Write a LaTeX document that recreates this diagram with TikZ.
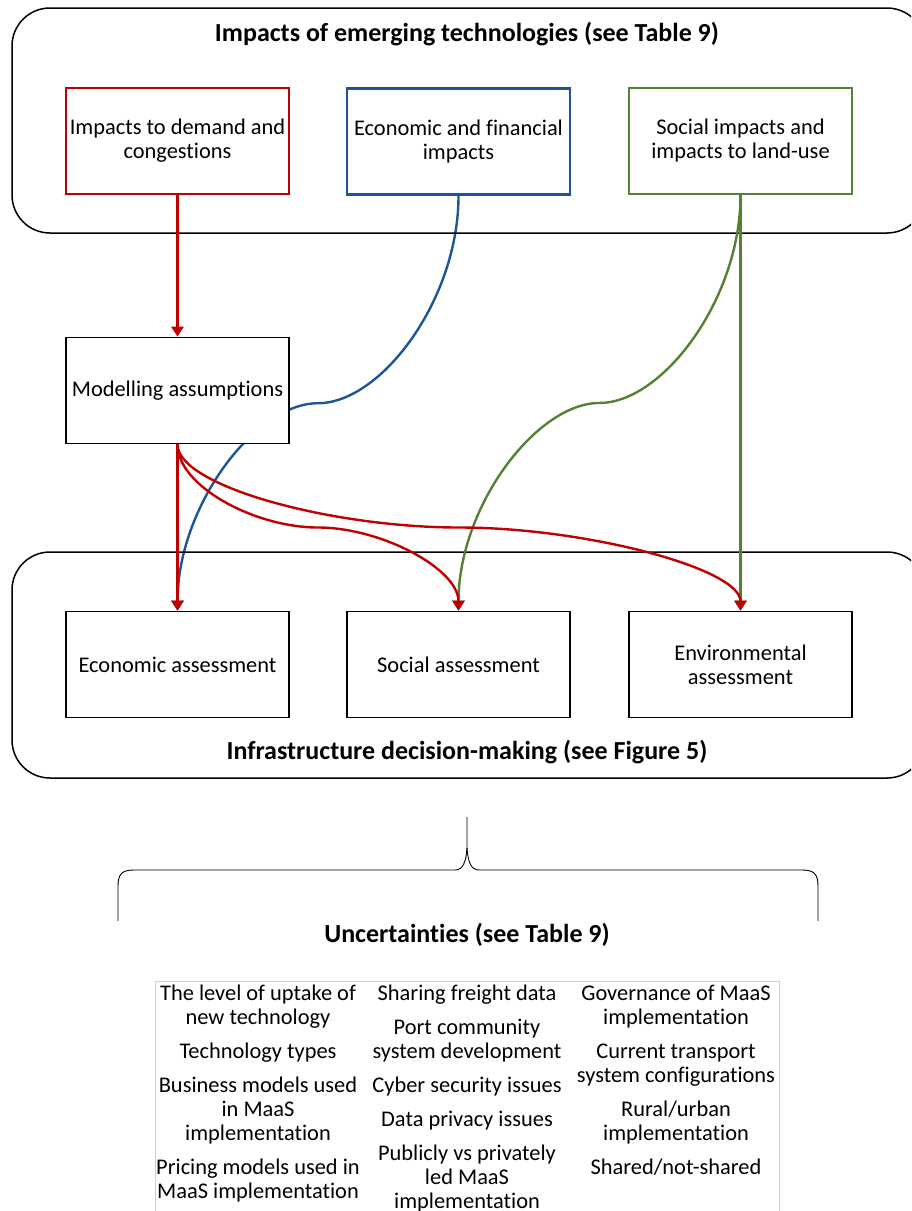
\documentclass[tikz,border=0pt]{standalone}
\usepackage{fontspec}
\setmainfont{Carlito}[Ligatures=NoCommon]
\usetikzlibrary{arrows.meta,calc}
\pgfdeclarelayer{bg}
\pgfsetlayers{bg,main}
\definecolor{cred}{RGB}{192,0,0}
\definecolor{cblue}{RGB}{28,86,152}
\definecolor{cgreen}{RGB}{84,130,53}
\definecolor{cgrid}{RGB}{205,205,205}
\begin{document}
\begin{tikzpicture}[x=1pt,y=-1pt,
  txt/.style={font=\fontsize{22.4}{24}\selectfont},
  ttl/.style={font=\fontsize{26}{28}\selectfont\bfseries},
  group/.style={draw=black,line width=1.5pt,rounded corners=38pt},
  card/.style={draw,line width=1.6pt,fill=white,minimum width=223pt,minimum height=106pt,
    align=center,inner sep=2pt,txt},
  link/.style={line width=2.4pt,-{Triangle[width=12pt,length=10pt]}}
]
\useasboundingbox (0,0) rectangle (911,1211);
\clip (0,0) rectangle (911,1211);

% outer groups
\draw[group] (12,8) rectangle (925,233);
\draw[group] (12,552) rectangle (925,778);
\node[ttl] (t1) at (467,34) {Impacts of emerging technologies (see Table 9)};
\node[ttl] (t2) at (467,752) {Infrastructure decision-making (see Figure 5)};

% impact boxes
\node[card,draw=cred,line width=2.4pt]   (dem) at (177.5,141) {Impacts to demand and\\congestions};
\node[card,draw=cblue,line width=2.4pt]  (eco) at (458.5,141.5) {Economic and financial\\impacts};
\node[card,draw=cgreen,line width=2.4pt] (soc) at (740.5,141) {Social impacts and\\impacts to land-use};

\node[card] (mod) at (177.5,390.5) {Modelling assumptions};

% assessment boxes
\node[card] (ea) at (177.5,664.5) {Economic assessment};
\node[card] (sa) at (458.5,664.5) {Social assessment};
\node[card] (va) at (740.5,664.5) {Environmental\\assessment};

% midpoints of the curved links
\coordinate (mb) at ($(eco.south)!0.5!(ea.north)$);
\coordinate (mg) at ($(soc.south)!0.5!(sa.north)$);
\coordinate (mr1) at ($(mod.south)!0.5!(sa.north)$);
\coordinate (mr2) at ($(mod.south)!0.5!(va.north)$);

% blue link passes behind the modelling box
\begin{pgfonlayer}{bg}
\draw[cblue,link] (eco.south) .. controls +(0,104) and +(63,0) .. (mb)
  .. controls +(-63,0) and +(0,-104) .. (ea.north);
\end{pgfonlayer}

% green links
\draw[cgreen,link] (soc.south) .. controls +(0,104) and +(63,0) .. (mg)
  .. controls +(-63,0) and +(0,-104) .. (sa.north);
\draw[cgreen,link] (soc.south) -- (va.north);

% red links
\draw[cred,link] (dem.south) -- (mod.north);
\draw[cred,link] (mod.south) .. controls +(0,42) and +(-63,0) .. (mr1)
  .. controls +(63,0) and +(0,-42) .. (sa.north);
\draw[cred,link] (mod.south) .. controls +(0,42) and +(-127,0) .. (mr2)
  .. controls +(127,0) and +(0,-42) .. (va.north);
\draw[cred,link] (mod.south) -- (ea.north);

% brace
\coordinate (bl) at (118,921);
\coordinate (br) at (818,921);
\coordinate (bt) at (467,817);
\draw[line width=0.9pt] (bl) -- (118,886) .. controls (118,874) and (122,870) .. (134,870)
  -- (455,870) .. controls (463,870) and (466,862) .. (467,848) -- (bt);
\draw[line width=0.9pt] (br) -- (818,886) .. controls (818,874) and (814,870) .. (802,870)
  -- (479,870) .. controls (471,870) and (468,862) .. (467,848);
\node[ttl] (t3) at (467,935) {Uncertainties (see Table 9)};

% uncertainty table
\draw[cgrid,line width=0.8pt] (155,1215) -- (155,981) -- (779,981) -- (779,1215);
\node[txt,align=center,anchor=north,inner sep=0pt] (c1) at (258,985)
  {The level of uptake of\\new technology\\[10pt]Technology types\\[10pt]Business models used\\in MaaS\\implementation\\[10pt]Pricing models used in\\MaaS implementation};
\node[txt,align=center,anchor=north,inner sep=0pt] (c2) at (467,985)
  {Sharing freight data\\[10pt]Port community\\system development\\[10pt]Cyber security issues\\[10pt]Data privacy issues\\[10pt]Publicly vs privately\\led MaaS\\implementation};
\node[txt,align=center,anchor=north,inner sep=0pt] (c3) at (676,985)
  {Governance of MaaS\\implementation\\[10pt]Current transport\\system configurations\\[10pt]Rural/urban\\implementation\\[10pt]Shared/not-shared};
\end{tikzpicture}
\end{document}
